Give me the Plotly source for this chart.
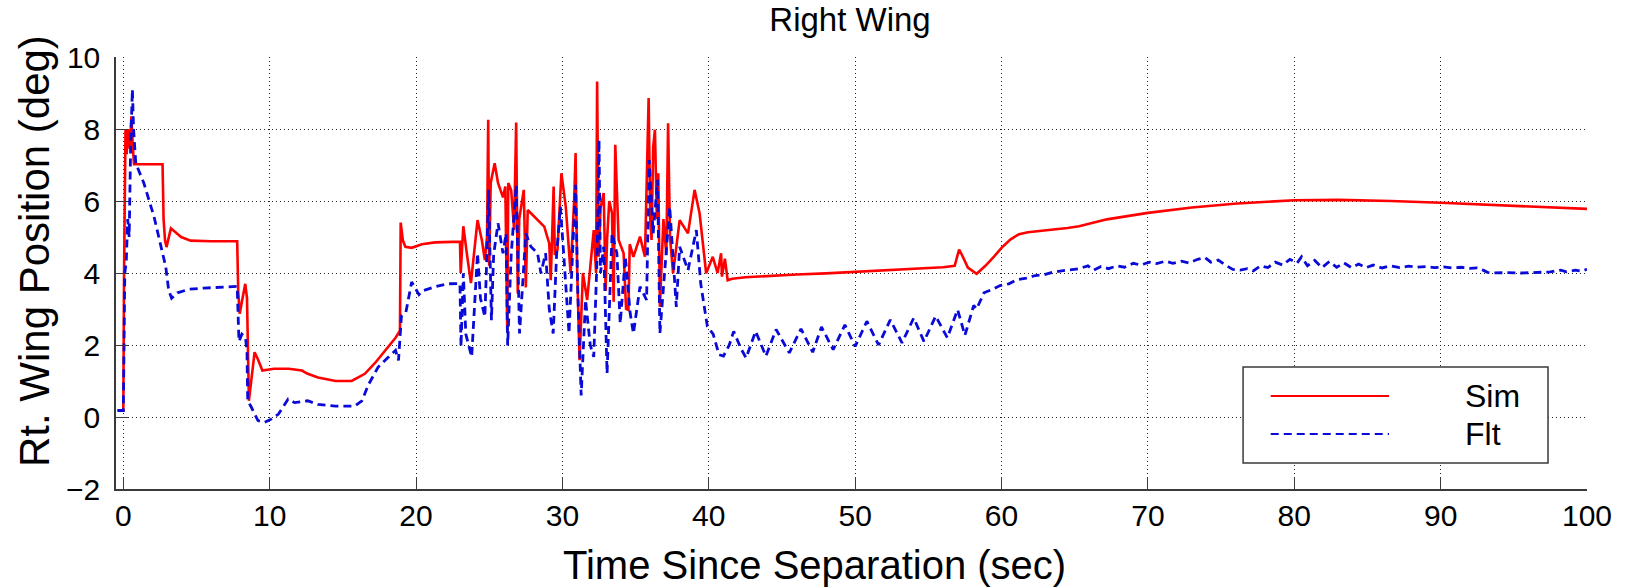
import plotly.graph_objects as go

# ---------------- data ----------------
sim_t = [-0.4, 0.0, 0.05, 0.1, 0.15, 0.23, 0.32, 0.45, 0.55, 0.65, 0.73, 1.5, 2.68, 2.75, 2.85, 2.95,
         3.25, 3.95, 4.6, 6.0, 7.78, 7.85, 7.95, 8.33, 8.45, 8.58, 8.97, 9.2, 9.5, 10.3, 11.3, 12.2,
         12.6, 13.3, 14.5, 15.6, 16.5, 17.2, 17.9, 18.6, 18.9, 18.95, 19.1, 19.27, 19.7, 20.4, 21.3,
         23.0, 23.05, 23.23, 23.45, 23.75, 24.2, 24.5, 24.7, 24.85, 24.93, 25.0, 25.1, 25.37, 25.6,
         25.94, 26.1, 26.23, 26.3, 26.5, 26.7, 26.84, 26.95, 27.05, 27.36, 27.5, 27.63, 28.08, 28.76,
         29.1, 29.2, 29.26, 29.4, 29.48, 29.66, 29.93, 30.23, 30.56, 30.8, 30.9, 31.0, 31.17, 31.4,
         31.69, 32.14, 32.3, 32.37, 32.48, 32.6, 32.82, 32.95, 33.05, 33.2, 33.39, 33.5, 33.61, 33.84,
         34.18, 34.35, 34.51, 34.6, 34.85, 35.3, 35.64, 35.8, 35.89, 36.0, 36.09, 36.2, 36.32, 36.45,
         36.55, 36.66, 36.9, 37.1, 37.22, 37.35, 37.56, 38.01, 38.58, 39.03, 39.37, 39.82, 40.27,
         40.6, 40.75, 40.84, 40.9, 41.1, 41.29, 41.6, 42.5, 44.0, 46.0, 48.0, 50.0, 52.0, 54.0, 56.0,
         56.8, 57.1, 57.3, 57.7, 58.3, 58.9, 59.5, 60.0, 60.6, 61.2, 61.8, 62.7, 63.7, 64.5, 65.3,
         67.2, 70.0, 73.0, 76.1, 78.0, 80.0, 83.0, 86.6, 90.0, 93.0, 96.1, 98.0, 100.0]
sim_v = [0.18, 0.18, 4.0, 6.77, 8.0, 7.3, 8.0, 7.45, 8.35, 7.5, 7.02, 7.02, 7.02, 5.5, 4.9, 4.72,
         5.24, 5.0, 4.9, 4.88, 4.88, 3.5, 2.87, 3.7, 3.3, 0.45, 1.8, 1.6, 1.29, 1.34, 1.34, 1.29,
         1.2, 1.1, 1.0, 1.0, 1.2, 1.5, 1.85, 2.2, 2.4, 5.4, 4.9, 4.73, 4.7, 4.8, 4.85,
         4.87, 4.0, 5.3, 4.6, 3.72, 5.47, 4.9, 4.36, 5.0, 8.26, 4.2, 6.5, 7.05, 6.5,
         6.1, 6.4, 2.41, 6.5, 6.3, 5.2, 8.18, 3.43, 5.5, 6.31, 3.6, 5.75, 5.57, 5.29,
         4.82, 3.8, 4.55, 6.4, 4.5, 4.64, 6.77, 5.84, 3.99, 6.0, 7.33, 4.2, 1.58, 4.0,
         3.25, 5.19, 4.0, 9.32, 4.45, 5.8, 6.22, 3.5, 4.92, 6.0, 5.66, 3.2, 7.56, 4.92,
         4.55, 3.0, 2.97, 4.8, 4.45, 5.01, 4.45, 7.24, 8.86, 5.5, 4.92, 7.5, 7.98, 5.5,
         6.77, 3.06, 5.5, 4.5, 8.16, 5.0, 3.99, 5.47, 5.1, 6.31, 5.66, 3.99, 4.45,
         4.0, 4.3, 4.55, 3.9, 4.4, 3.8, 3.84, 3.88, 3.92, 3.96, 3.99, 4.03, 4.07, 4.12, 4.16,
         4.2, 4.65, 4.5, 4.15, 3.98, 4.2, 4.46, 4.7, 4.93, 5.08, 5.13, 5.17, 5.2, 5.25, 5.3,
         5.49, 5.67, 5.82, 5.93, 5.98, 6.02, 6.03, 6.0, 5.95, 5.9, 5.86, 5.82, 5.78]

flt_t = [-0.4, 0.0, 0.05, 0.1, 0.2, 0.3, 0.4, 0.5, 0.62, 0.7, 0.85, 1.4, 2.1, 2.6, 2.9, 3.1, 3.3,
         3.7, 4.5, 5.5, 6.5, 7.78, 7.9, 8.1, 8.35, 8.45, 8.5, 8.75, 9.2, 9.66, 10.1, 10.6, 10.9,
         11.26, 11.7, 12.6, 13.3, 14.5, 15.8, 16.3, 16.75, 17.4, 18.1, 18.6, 18.8, 19.0, 19.3,
         19.7, 20.2, 20.4, 21.3, 22.2, 23.0, 23.07, 23.23, 23.4, 23.8, 24.2, 24.4, 24.7, 24.8,
         24.96, 25.15, 25.3, 25.6, 25.94, 26.15, 26.26, 26.5, 26.84, 27.07, 27.3, 27.5, 27.85,
         28.3, 28.53, 28.85, 29.1, 29.37, 29.6, 29.86, 30.1, 30.45, 30.9, 31.05, 31.28, 31.58,
         31.9, 32.14, 32.37, 32.5, 32.6, 32.82, 33.05, 33.39, 33.72, 33.95, 34.3, 34.63, 34.85,
         35.3, 35.75, 35.93, 36.2, 36.5, 36.66, 37.0, 37.33, 37.78, 38.01, 38.58, 39.15, 39.45,
         39.9, 40.3, 40.7, 41.0, 41.4, 41.7, 42.2, 42.55, 43.2, 43.9, 44.6, 45.5, 46.3, 47.1,
         47.7, 48.5, 49.3, 50.0, 50.8, 51.6, 52.4, 53.2, 54.0, 54.7, 55.5, 56.3, 57.0, 57.5,
         58.1, 58.3, 58.8, 59.4, 59.9, 60.5, 61.1, 61.7, 62.3, 62.9, 63.5, 64.1, 64.7, 65.3,
         65.9, 66.3, 66.8, 67.3, 67.9, 68.4, 69.0, 69.5, 70.1, 70.6, 71.2, 71.7, 72.3, 72.8,
         73.4, 73.9, 74.3, 74.8, 75.3, 75.8, 76.3, 76.8, 77.2, 77.7, 78.2, 78.7, 79.2, 79.7,
         80.2, 80.5, 80.9, 81.4, 81.9, 82.4, 82.9, 83.4, 83.9, 84.4, 84.9, 85.4, 86.0, 86.6,
         87.2, 87.8, 88.4, 89.0, 89.6, 90.2, 90.8, 91.4, 92.0, 92.5, 92.9, 93.2, 93.6, 94.5,
         95.5, 96.5, 97.5, 98.2, 98.6, 99.2, 99.6, 100.0]
flt_v = [0.18, 0.18, 2.0, 4.0, 4.3, 5.5, 5.0, 7.5, 9.1, 8.0, 7.05, 6.5, 5.56, 4.73, 4.17, 3.52, 3.3,
         3.45, 3.55, 3.58, 3.6, 3.63, 2.1, 2.3, 2.2, 1.8, 0.45, 0.27, -0.1, -0.15, -0.06, 0.08, 0.27,
         0.5, 0.4, 0.45, 0.35, 0.3, 0.3, 0.45, 0.9, 1.38, 1.66, 1.85, 1.57, 2.8, 2.9,
         3.75, 3.4, 3.5, 3.62, 3.7, 3.71, 1.95, 3.99, 2.3, 1.67, 4.55, 3.3, 2.78, 4.0,
         6.31, 2.69, 4.5, 5.38, 4.55, 5.1, 1.99, 4.5, 6.45, 2.32, 4.0, 5.1, 4.73,
         4.55, 3.99, 4.55, 3.0, 2.32, 4.5, 5.84, 4.45, 2.32, 6.45, 3.5, 0.6, 3.25,
         2.0, 1.67, 4.45, 7.7, 4.0, 4.73, 1.21, 5.1, 4.55, 2.6, 4.45, 2.88, 2.32,
         3.62, 3.25, 7.14, 5.1, 6.59, 2.32, 4.0, 5.84, 3.06, 4.73, 4.08, 5.19, 3.7,
         2.52, 2.3, 1.73, 1.69, 2.0, 2.38, 1.9, 1.64, 2.38, 1.69, 2.43, 1.78, 2.45, 1.8,
         2.5, 1.87, 2.56, 1.96, 2.66, 2.0, 2.7, 2.06, 2.75, 2.1, 2.8, 2.2, 2.98, 2.27,
         3.1, 3.0, 3.45, 3.55, 3.65, 3.7, 3.82, 3.86, 3.93, 3.95, 4.02, 4.06, 4.1, 4.12,
         4.2, 4.08, 4.18, 4.12, 4.2, 4.16, 4.27, 4.22, 4.3, 4.26, 4.33, 4.27, 4.33, 4.28,
         4.38, 4.43, 4.3, 4.36, 4.22, 4.1, 4.08, 4.12, 4.06, 4.2, 4.15, 4.3, 4.22, 4.38,
         4.28, 4.45, 4.2, 4.35, 4.15, 4.32, 4.16, 4.28, 4.15, 4.25, 4.15, 4.22, 4.14, 4.2,
         4.15, 4.19, 4.16, 4.18, 4.15, 4.17, 4.14, 4.16, 4.13, 4.14, 4.08, 4.02, 4.0, 4.01,
         4.0, 4.02, 4.03, 4.08, 4.03, 4.08, 4.05, 4.1]

x_ticks = [0, 10, 20, 30, 40, 50, 60, 70, 80, 90, 100]
y_ticks = [-2, 0, 2, 4, 6, 8, 10]
series_names = ["Sim", "Flt"]

# ---------------- style ----------------
RED = "#ff0000"
BLUE = "#0a0ad8"
AX = "#3a3a3a"
FONT = "Liberation Sans, Arial, sans-serif"

fig = go.Figure()
fig.add_trace(go.Scatter(x=sim_t, y=sim_v, mode="lines", name=series_names[0],
                         line=dict(color=RED, width=2.6), showlegend=False))
fig.add_trace(go.Scatter(x=flt_t, y=flt_v, mode="lines", name=series_names[1],
                         line=dict(color=BLUE, width=2.8, dash="8px,5px"), showlegend=False))

axis_common = dict(
    showline=True, linecolor=AX, linewidth=1.5, mirror=False,
    ticks="inside", ticklen=12, tickwidth=1.2, tickcolor=AX,
    showgrid=True, gridcolor="#222222", gridwidth=1, griddash="1px,3px",
    zeroline=False, tickfont=dict(family=FONT, size=30, color="black"),
)

fig.update_layout(
    width=1625, height=588,
    paper_bgcolor="white", plot_bgcolor="white",
    margin=dict(l=116, r=38, t=57, b=99, autoexpand=False),
    title=dict(text="Right Wing", x=850 / 1625, xanchor="center", y=1 - 19 / 588, yanchor="middle",
               font=dict(family=FONT, size=33, color="black")),
    xaxis=dict(range=[-0.5, 100], tickvals=x_ticks, ticklabelstandoff=-1, **axis_common),
    yaxis=dict(range=[-2, 10], tickvals=y_ticks, ticklabelstandoff=8, **axis_common),
    showlegend=False,
)

# axis titles (placed as in the reference)
fig.add_annotation(xref="paper", yref="paper", x=(814 - 116) / 1471, y=(489 - 565) / 432,
                   xanchor="center", yanchor="middle", showarrow=False,
                   text="Time Since Separation (sec)", font=dict(family=FONT, size=40, color="black"))
fig.add_annotation(xref="paper", yref="paper", x=(34 - 116) / 1471, y=(489 - 251) / 432,
                   xanchor="center", yanchor="middle", showarrow=False, textangle=-90,
                   text="Rt. Wing Position (deg)", font=dict(family=FONT, size=42, color="black"))

# custom MATLAB-style legend box (paper coords = plot area)
lx0, lx1, ly0, ly1 = 0.7662, 0.9735, 0.0602, 0.2824
fig.add_shape(type="rect", xref="paper", yref="paper", x0=lx0, x1=lx1, y0=ly0, y1=ly1,
              line=dict(color=AX, width=1.5), fillcolor="white", layer="above")
leg_rows = [((489 - 396) / 432, RED, "solid"), ((489 - 434) / 432, BLUE, "8px,5px")]
for (yy, col, dsh), name in zip(leg_rows, series_names):
    fig.add_shape(type="line", xref="paper", yref="paper", x0=0.785, x1=0.8654, y0=yy, y1=yy,
                  line=dict(color=col, width=2.2, dash=dsh), layer="above")
    fig.add_annotation(xref="paper", yref="paper", x=0.9157, y=yy, xanchor="left", yanchor="middle",
                       text=name, showarrow=False, font=dict(family=FONT, size=32, color="black"))

fig.write_html("out.html")
